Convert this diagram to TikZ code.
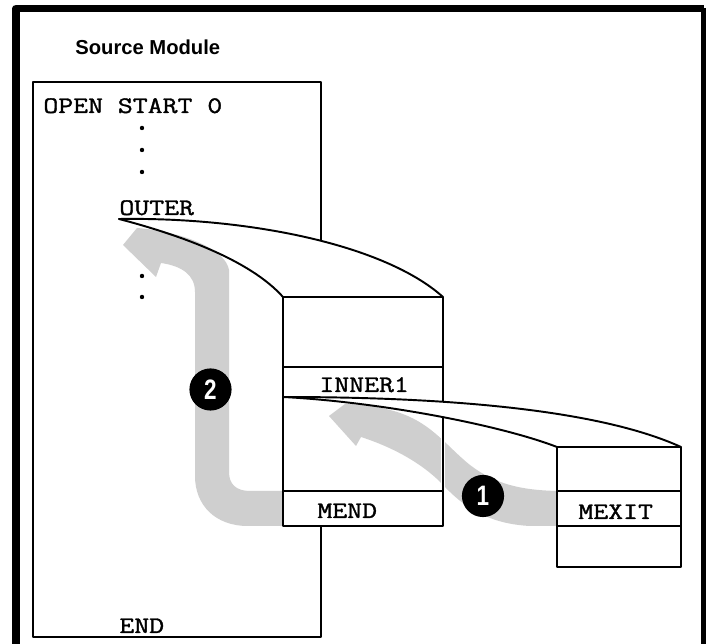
\documentclass[tikz,border=0pt]{standalone}
\usepackage{fontspec}
\newfontfamily\headfont{Liberation Sans}
\newfontfamily\codefont{Latin Modern Mono}[FakeBold=1.2]
\begin{document}
\begin{tikzpicture}[x=0.02cm,y=-0.02cm,line cap=round,line join=round,
  code/.style={font=\codefont\fontsize{13.5}{16}\selectfont,xscale=1.22,inner sep=0pt,anchor=base west},
  flow/.style={fill=black!19},
  edge/.style={line width=1.1pt},
  badge/.style={circle,fill=black,text=white,inner sep=0pt,minimum size=24pt,
    font=\headfont\bfseries\fontsize{16}{16}\selectfont}]
\useasboundingbox (0,0) rectangle (708,644);
% frame
\draw[line width=4.3pt,line cap=butt] (16,644) -- (16,8.5) -- (704,8.5);
\draw[line width=3pt,line cap=butt] (703.5,8.5) -- (703.5,644);
\node[font=\headfont\bfseries\fontsize{11.5}{13}\selectfont,inner sep=0pt,anchor=base west] (title) at (75,55) {Source Module};
% source module
\draw[edge,fill=white] (33,82) rectangle (321,637);
\node[code] (open) at (43,113) {OPEN START 0};
\node[code] (outer) at (119,215) {OUTER};
\node[code] (end) at (119,633) {END};
\foreach \y in {128,150,172,276,297}
  \fill (142,\y) circle (2.2);
% corners of the expanded boxes
\coordinate (src) at (119,219);
\coordinate (mid-nw) at (283,297);
\coordinate (mid-ne) at (443,297);
\coordinate (inn) at (283,397);
\coordinate (ext-nw) at (557,447);
\coordinate (ext-ne) at (681,447);
% callout to the middle box
\fill[white] (src) .. controls (250,217) and (385,245) .. (mid-ne) -- (mid-nw)
  .. controls (250,260) and (180,235) .. (src) -- cycle;
% flow 2
\fill[flow] (283,491) -- (250,491) .. controls (236,491) and (229,484) .. (229,472) -- (229,270)
  .. controls (226,250) and (185,232) .. (137,228) -- (123,245) -- (156,277) -- (161,263)
  .. controls (182,266) and (195,275) .. (195,292) -- (195,476)
  .. controls (195,505) and (215,526) .. (248,526) -- (283,526) -- cycle;
\draw[edge] (src) .. controls (250,217) and (385,245) .. (mid-ne);
\draw[edge] (src) .. controls (180,235) and (250,260) .. (mid-nw);
% middle box
\fill[white] (mid-nw) rectangle (443,526);
% flow 1
\fill[flow] (557,491) .. controls (520,490) and (495,484) .. (470,465)
  .. controls (445,445) and (430,420) .. (390,410) .. controls (375,406) and (360,404) .. (345,404)
  -- (329,416) -- (356,446) -- (361,437) .. controls (395,448) and (425,465) .. (445,487)
  .. controls (465,508) and (490,524) .. (530,526) -- (557,526) -- cycle;
\draw[white,line width=2.5pt] (443,425) -- (443,491);
\draw[edge] (mid-nw) rectangle (443,526);
\draw[edge] (283,367) -- (443,367);
\draw[edge] (283,491) -- (443,491);
\node[code] (inner) at (319,392) {INNER1};
\node[code] (mend) at (317,518) {MEND};
% callout to the exit box
\fill[white] (inn) .. controls (450,397) and (600,410) .. (ext-ne) -- (ext-nw)
  .. controls (500,425) and (380,402) .. (inn) -- cycle;
\draw[edge] (inn) .. controls (450,397) and (600,410) .. (ext-ne);
\draw[edge] (inn) .. controls (380,402) and (500,425) .. (ext-nw);
% exit box
\draw[edge,fill=white] (ext-nw) rectangle (681,567);
\draw[edge] (557,491) -- (681,491);
\draw[edge] (557,526) -- (681,526);
\node[code] (mexit) at (578,519) {MEXIT};
% step numbers
\node[badge] (n1) at (483,496) {\scalebox{0.8}[1]{1}};
\node[badge] (n2) at (210.5,389.5) {\scalebox{0.8}[1]{2}};
\end{tikzpicture}
\end{document}
